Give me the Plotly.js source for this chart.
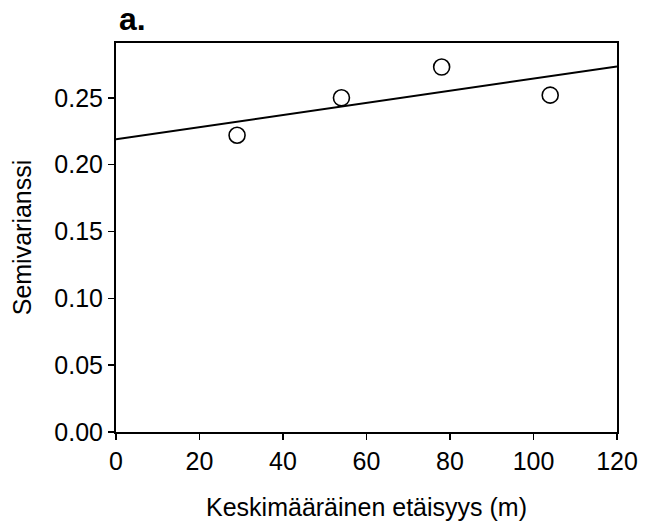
<!DOCTYPE html>
<html>
<head>
<meta charset="utf-8">
<script src="https://cdn.plot.ly/plotly-3.0.1.min.js"></script>
<style>
  html, body { margin: 0; padding: 0; background: #fff; }
  #chart { width: 645px; height: 527px; }
</style>
</head>
<body>
<div id="chart"></div>
<script>
// Mean distance between sample pairs (m) and the semivariance in each lag class
const distance = [29, 54, 78, 104];
const semivariance = [0.222, 0.250, 0.273, 0.252];

// Fitted linear model, drawn across the whole distance axis
const fitDistance = [0, 120];
const fitSemivariance = [0.219, 0.2735];

// Axis ticks
const xTicks = [0, 20, 40, 60, 80, 100, 120];
const yTicks = [0.00, 0.05, 0.10, 0.15, 0.20, 0.25];

const font = 'Liberation Sans, Arial, Helvetica, sans-serif';

const traces = [
  {
    x: fitDistance,
    y: fitSemivariance,
    mode: 'lines',
    type: 'scatter',
    line: { color: '#000', width: 2 },
    hoverinfo: 'skip'
  },
  {
    x: distance,
    y: semivariance,
    mode: 'markers',
    type: 'scatter',
    marker: {
      symbol: 'circle-open',
      size: 16,
      color: '#000',
      line: { color: '#000', width: 1.6 }
    }
  }
];

const layout = {
  width: 645,
  height: 527,
  paper_bgcolor: '#fff',
  plot_bgcolor: '#fff',
  showlegend: false,
  margin: { l: 116, r: 28, t: 43, b: 95 },
  font: { family: font, color: '#000', size: 25 },
  title: {
    text: '<b>a.</b>',
    font: { family: font, size: 32, color: '#000' },
    xref: 'container',
    x: 119 / 645,
    xanchor: 'left',
    yref: 'container',
    y: 1 - 19 / 527,
    yanchor: 'middle'
  },
  xaxis: {
    range: [0, 120],
    tickvals: xTicks,
    ticktext: xTicks.map(String),
    ticks: 'outside',
    ticklen: 6,
    tickwidth: 1.5,
    tickcolor: '#000',
    showline: true,
    linecolor: '#000',
    linewidth: 2,
    mirror: true,
    showgrid: false,
    zeroline: false,
    tickfont: { family: font, size: 25, color: '#000' },
    title: {
      text: 'Keskimääräinen etäisyys (m)',
      font: { family: font, size: 25, color: '#000' },
      standoff: 24
    }
  },
  yaxis: {
    range: [0, 0.291],
    tickvals: yTicks,
    ticktext: yTicks.map(v => v.toFixed(2)),
    ticks: 'outside',
    ticklen: 6,
    tickwidth: 1.5,
    tickcolor: '#000',
    showline: true,
    linecolor: '#000',
    linewidth: 2,
    mirror: true,
    showgrid: false,
    zeroline: false,
    tickfont: { family: font, size: 25, color: '#000' },
    title: {
      text: 'Semivarianssi',
      font: { family: font, size: 25, color: '#000' },
      standoff: 16
    }
  }
};

Plotly.newPlot('chart', traces, layout, { staticPlot: true, displayModeBar: false });
</script>
</body>
</html>
